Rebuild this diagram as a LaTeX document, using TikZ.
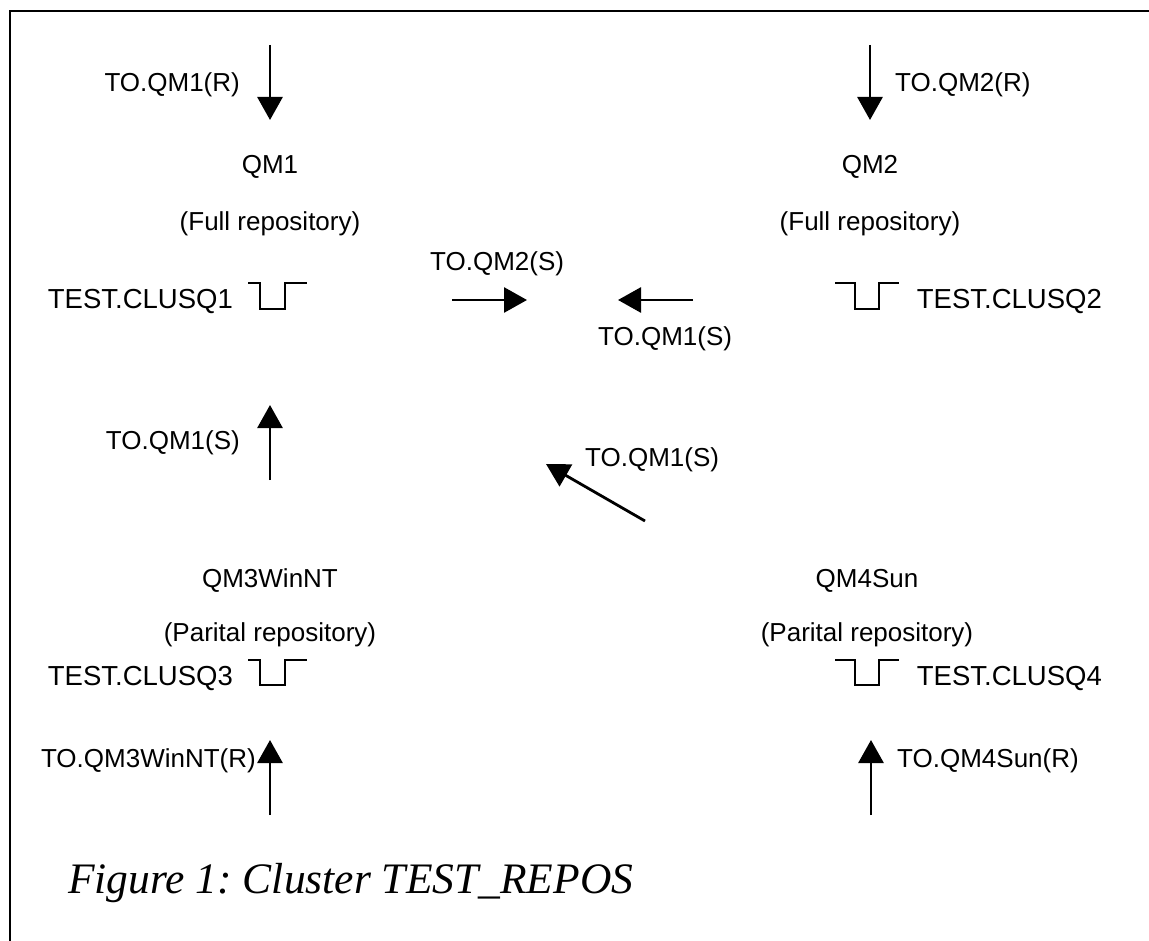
\documentclass[tikz,border=0pt]{standalone}
\usepackage{fontspec}
\setmainfont{Liberation Sans}
\newfontfamily\captionserif{Liberation Serif}
\usetikzlibrary{arrows.meta}
\begin{document}
\frenchspacing
\begin{tikzpicture}[x=1pt,y=1pt,
  lbl/.style={font=\fontsize{26}{30}\selectfont, inner sep=0pt},
  qlbl/.style={font=\fontsize{27.5}{32}\selectfont, inner sep=0pt},
  flow/.style={line width=2.8pt, -{Triangle[length=23pt,width=25pt]}},
  queue/.style={line width=2.8pt},
  frame/.style={line width=1.5pt},
  caption/.style={font=\captionserif\itshape\fontsize{43.5}{50}\selectfont, inner sep=0pt, anchor=base west}]
\useasboundingbox (0,0) rectangle (1149,-941);

% page frame
\draw[frame] (1149,-11) -- (10,-11) -- (10,-941);

% queue managers
\node[lbl, anchor=base] (qm1) at (270,-174) {QM1};
\node[lbl, anchor=base] (qm1role) at (270,-231) {(Full repository)};
\node[lbl, anchor=base] (qm2) at (870,-174) {QM2};
\node[lbl, anchor=base] (qm2role) at (870,-231) {(Full repository)};
\node[lbl, anchor=base] (qm3) at (270,-587) {QM3WinNT};
\node[lbl, anchor=base] (qm3role) at (270,-641) {(Parital repository)};
\node[lbl, anchor=base] (qm4) at (867,-587) {QM4Sun};
\node[lbl, anchor=base] (qm4role) at (867,-641) {(Parital repository)};

% cluster queues
\node[qlbl, anchor=base east] (cq1) at (233,-309) {TEST.CLUSQ1};
\node[qlbl, anchor=base east] (cq2) at (1102,-309) {TEST.CLUSQ2};
\node[qlbl, anchor=base east] (cq3) at (233,-685) {TEST.CLUSQ3};
\node[qlbl, anchor=base east] (cq4) at (1102,-685) {TEST.CLUSQ4};
\draw[queue] (248,-283) -- ++(12,0) -- ++(0,-26) -- ++(25,0) -- ++(0,26) -- ++(22,0);
\draw[queue] (835,-283) -- ++(20,0) -- ++(0,-26) -- ++(24,0) -- ++(0,26) -- ++(20,0);
\draw[queue] (248,-660) -- ++(12,0) -- ++(0,-25) -- ++(25,0) -- ++(0,25) -- ++(22,0);
\draw[queue] (835,-660) -- ++(20,0) -- ++(0,-25) -- ++(24,0) -- ++(0,25) -- ++(20,0);

% channel end points
\coordinate (r1a) at (270,-45);   \coordinate (r1b) at (270,-120);
\coordinate (r2a) at (870,-45);   \coordinate (r2b) at (870,-120);
\coordinate (s12a) at (452,-300); \coordinate (s12b) at (527,-300);
\coordinate (s21a) at (693,-300); \coordinate (s21b) at (618,-300);
\coordinate (s31a) at (270,-480); \coordinate (s31b) at (270,-405);
\coordinate (s41a) at (645,-521); \coordinate (s41b) at (546,-464);
\coordinate (r3a) at (270,-815);  \coordinate (r3b) at (270,-740);
\coordinate (r4a) at (871,-815);  \coordinate (r4b) at (871,-740);

% channels
\draw[flow] (r1a) -- (r1b);
\draw[flow] (r2a) -- (r2b);
\draw[flow] (s12a) -- (s12b);
\draw[flow] (s21a) -- (s21b);
\draw[flow] (s31a) -- (s31b);
\draw[flow] (s41a) -- (s41b);
\draw[flow] (r3a) -- (r3b);
\draw[flow] (r4a) -- (r4b);

% channel names
\node[lbl, anchor=base east] (l1) at (240,-92) {TO.QM1(R)};
\node[lbl, anchor=base west] (l2) at (895,-92) {TO.QM2(R)};
\node[lbl, anchor=base west] (l3) at (430,-271) {TO.QM2(S)};
\node[lbl, anchor=base west] (l4) at (598,-346) {TO.QM1(S)};
\node[lbl, anchor=base east] (l5) at (240,-449) {TO.QM1(S)};
\node[lbl, anchor=base west] (l6) at (585,-466) {TO.QM1(S)};
\node[lbl, anchor=base east] (l7) at (256,-767) {TO.QM3WinNT(R)};
\node[lbl, anchor=base west] (l8) at (897,-767) {TO.QM4Sun(R)};

% caption
\node[caption] (cap) at (68,-893) {Figure 1: Cluster TEST\_REPOS};
\end{tikzpicture}
\end{document}
